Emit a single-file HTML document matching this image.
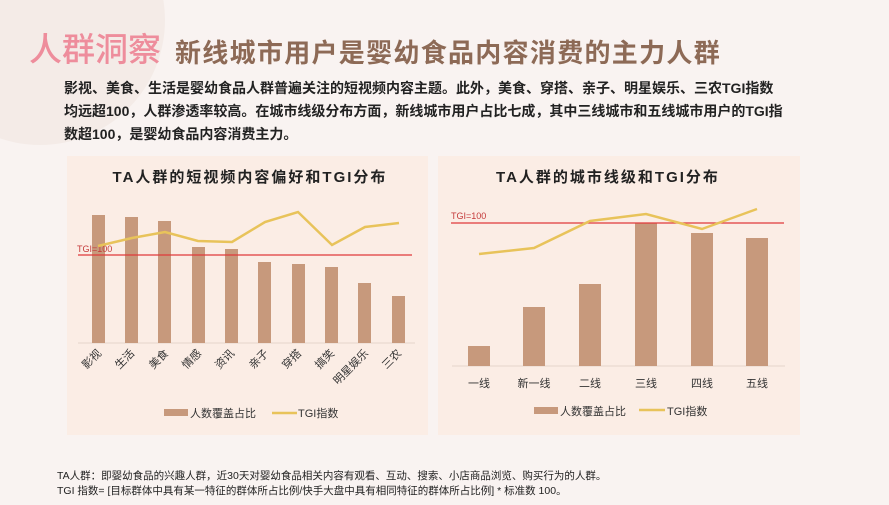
<!DOCTYPE html>
<html><head><meta charset="utf-8"><style>
body{margin:0;width:889px;height:500px;overflow:hidden;background:#f9f3f1;font-family:"Liberation Sans","Noto Sans CJK SC",sans-serif}
</style></head><body>
<svg width="889" height="500" xmlns="http://www.w3.org/2000/svg" style="font-family:'Liberation Sans','Noto Sans CJK SC',sans-serif">
<rect width="889" height="500" fill="#f9f3f1"/>
<circle cx="40" cy="20" r="125" fill="#f4ebe7"/>
<text x="29" y="61" font-size="33" fill="#ee8d9c" font-weight="500">人群洞察</text>
<text x="175" y="62" font-size="26" letter-spacing="1.3" fill="#8d6a56" font-weight="bold">新线城市用户是婴幼食品内容消费的主力人群</text>
<g font-size="14" fill="#222" font-weight="bold">
<text x="64" y="93">影视、美食、生活是婴幼食品人群普遍关注的短视频内容主题。此外，美食、穿搭、亲子、明星娱乐、三农TGI指数</text>
<text x="64" y="116">均远超100，人群渗透率较高。在城市线级分布方面，新线城市用户占比七成，其中三线城市和五线城市用户的TGI指</text>
<text x="64" y="139">数超100，是婴幼食品内容消费主力。</text>
</g>
<rect x="67" y="156" width="361" height="279" fill="#fbede5"/>
<rect x="438" y="156" width="362" height="279" fill="#fbede5"/>
<!-- chart 1 -->
<text x="250" y="182" font-size="15" font-weight="bold" text-anchor="middle" letter-spacing="2" fill="#222">TA人群的短视频内容偏好和TGI分布</text>
<line x1="78" y1="343" x2="415" y2="343" stroke="#e5d5cc"/>
<g fill="#c7997c">
<rect x="92" y="215" width="13" height="128"/><rect x="125" y="217" width="13" height="126"/><rect x="158" y="221" width="13" height="122"/><rect x="192" y="247" width="13" height="96"/><rect x="225" y="249" width="13" height="94"/><rect x="258" y="262" width="13" height="81"/><rect x="292" y="264" width="13" height="79"/><rect x="325" y="267" width="13" height="76"/><rect x="358" y="283" width="13" height="60"/><rect x="392" y="296" width="13" height="47"/>
</g>
<line x1="78" y1="255" x2="412" y2="255" stroke="#e03a3a" stroke-width="1.3"/>
<text x="77" y="252" font-size="9" fill="#c43a3a">TGI=100</text>
<polyline fill="none" stroke="#e8c35a" stroke-width="2.5" points="98,246 132,238 165,232 198,241 232,242 265,222 298,212 332,245 365,227 399,223"/>
<g font-size="11" fill="#333">
<text transform="translate(102,354) rotate(-45)" text-anchor="end">影视</text>
<text transform="translate(135,354) rotate(-45)" text-anchor="end">生活</text>
<text transform="translate(169,354) rotate(-45)" text-anchor="end">美食</text>
<text transform="translate(202,354) rotate(-45)" text-anchor="end">情感</text>
<text transform="translate(235,354) rotate(-45)" text-anchor="end">资讯</text>
<text transform="translate(269,354) rotate(-45)" text-anchor="end">亲子</text>
<text transform="translate(302,354) rotate(-45)" text-anchor="end">穿搭</text>
<text transform="translate(335,354) rotate(-45)" text-anchor="end">搞笑</text>
<text transform="translate(369,354) rotate(-45)" text-anchor="end">明星娱乐</text>
<text transform="translate(402,354) rotate(-45)" text-anchor="end">三农</text>
</g>
<rect x="164" y="409" width="24" height="7" fill="#c7997c"/>
<text x="190" y="417" font-size="11" fill="#333">人数覆盖占比</text>
<line x1="272" y1="413" x2="297" y2="413" stroke="#e8c35a" stroke-width="2.5"/>
<text x="298" y="417" font-size="11" fill="#333">TGI指数</text>
<!-- chart 2 -->
<text x="608" y="182" font-size="15" font-weight="bold" text-anchor="middle" letter-spacing="2" fill="#222">TA人群的城市线级和TGI分布</text>
<line x1="452" y1="366" x2="785" y2="366" stroke="#e5d5cc"/>
<g fill="#c7997c">
<rect x="468" y="346" width="22" height="20"/><rect x="523" y="307" width="22" height="59"/><rect x="579" y="284" width="22" height="82"/><rect x="635" y="223" width="22" height="143"/><rect x="691" y="233" width="22" height="133"/><rect x="746" y="238" width="22" height="128"/>
</g>
<line x1="451" y1="223" x2="784" y2="223" stroke="#e03a3a" stroke-width="1.3"/>
<text x="451" y="219" font-size="9" fill="#c43a3a">TGI=100</text>
<polyline fill="none" stroke="#e8c35a" stroke-width="2.5" points="479,254 534,248 590,221 646,214 702,229 757,209"/>
<g font-size="11" fill="#333" text-anchor="middle">
<text x="479" y="387">一线</text><text x="534" y="387">新一线</text><text x="590" y="387">二线</text><text x="646" y="387">三线</text><text x="702" y="387">四线</text><text x="757" y="387">五线</text>
</g>
<rect x="534" y="407" width="24" height="7" fill="#c7997c"/>
<text x="560" y="415" font-size="11" fill="#333">人数覆盖占比</text>
<line x1="639" y1="410" x2="665" y2="410" stroke="#e8c35a" stroke-width="2.5"/>
<text x="667" y="415" font-size="11" fill="#333">TGI指数</text>
<g font-size="10.5" fill="#222">
<text x="57" y="479">TA人群：即婴幼食品的兴趣人群，近30天对婴幼食品相关内容有观看、互动、搜索、小店商品浏览、购买行为的人群。</text>
<text x="57" y="494">TGI 指数= [目标群体中具有某一特征的群体所占比例/快手大盘中具有相同特征的群体所占比例] * 标准数 100。</text>
</g>
</svg>
</body></html>
